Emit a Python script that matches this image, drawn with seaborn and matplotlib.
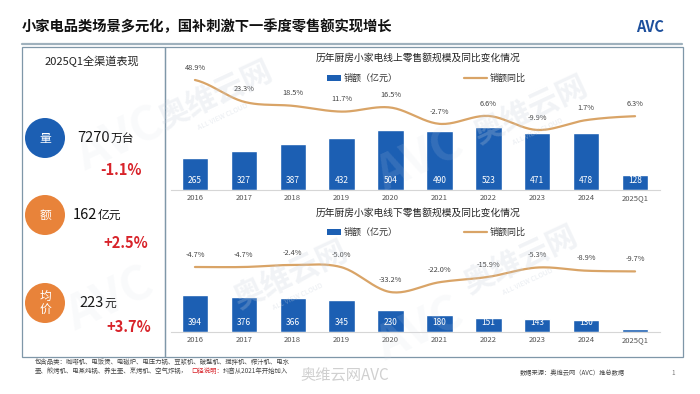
import matplotlib
matplotlib.use("Agg")
import matplotlib.pyplot as plt
from matplotlib.patches import Circle, Rectangle
import seaborn as sns
import pandas as pd
import numpy as np

# ---- data ----
years = ["2016", "2017", "2018", "2019", "2020", "2021", "2022", "2023", "2024", "2025Q1"]
online_sales = [265, 327, 387, 432, 504, 490, 523, 471, 478, 128]
online_yoy = [48.9, 23.3, 18.5, 11.7, 16.5, -2.7, 6.6, -9.9, 1.7, 6.3]
offline_sales = [394, 376, 366, 345, 230, 180, 151, 143, 130, 34]
offline_yoy = [-4.7, -4.7, -2.4, -5.0, -33.2, -22.0, -15.9, -5.3, -8.9, -9.7]

kpi_names = ["量", "额", "均\n价"]
kpi_values = ["7270", "162", "223"]
kpi_units = ["万台", "亿元", "元"]
kpi_changes = ["-1.1%", "+2.5%", "+3.7%"]

BLUE = "#1c5fb3"
LINE = "#d9a467"
RED = "#d8232a"
GRID = "#7f97a8"

sns.set_style("white")
plt.rcParams["font.family"] = ["Noto Sans CJK SC", "DejaVu Sans"]
plt.rcParams["axes.unicode_minus"] = False

W, H = 700, 394
fig = plt.figure(figsize=(7, 3.94), dpi=100)


def fx(px):
    return px / W


def fy(py):
    return 1 - py / H


def smooth(xs, ys, n=24):
    # catmull-rom rendering of the line (drawing style only)
    xs = np.asarray(xs, float)
    ys = np.asarray(ys, float)
    px = np.concatenate([[2 * xs[0] - xs[1]], xs, [2 * xs[-1] - xs[-2]]])
    py = np.concatenate([[ys[0]], ys, [ys[-1]]])
    ox, oy = [], []
    for i in range(1, len(px) - 2):
        t = np.linspace(0, 1, n, endpoint=False)
        for arr, out in ((px, ox), (py, oy)):
            p0, p1, p2, p3 = arr[i - 1], arr[i], arr[i + 1], arr[i + 2]
            out.extend(0.5 * ((2 * p1) + (-p0 + p2) * t
                              + (2 * p0 - 5 * p1 + 4 * p2 - p3) * t ** 2
                              + (-p0 + 3 * p1 - 3 * p2 + p3) * t ** 3))
    ox.append(xs[-1])
    oy.append(ys[-1])
    return np.array(ox), np.array(oy)


def combo(top_px, bottom_px, sales, yoy, ymax, yoy_lim):
    ax = fig.add_axes([fx(170.5), fy(bottom_px), fx(489), (bottom_px - top_px) / H])
    df = pd.DataFrame({"year": years, "sales": sales})
    sns.barplot(data=df, x="year", y="sales", color=BLUE, width=0.54,
                saturation=1, ax=ax)
    ax.set_ylim(0, ymax)
    ax.set_xlim(-0.5, 9.5)
    ax.set_xlabel("")
    ax.set_ylabel("")
    ax.set_yticks([])
    for s in ["top", "left", "right"]:
        ax.spines[s].set_visible(False)
    ax.spines["bottom"].set_color("#d6d6d6")
    ax.spines["bottom"].set_linewidth(0.8)
    ax.tick_params(axis="x", length=0, pad=3, labelsize=5.5, labelcolor="#555555")
    ax.patch.set_alpha(0)
    for i, v in enumerate(sales):
        if v > 60:
            ax.annotate(str(v), (i, 0), xytext=(0, 3.5), textcoords="offset points",
                        ha="center", va="bottom", color="white", fontsize=6)

    ax2 = ax.twinx()
    sx, sy = smooth(np.arange(len(yoy)), yoy)
    sns.lineplot(x=sx, y=sy, color=LINE, linewidth=1.6, sort=False, ax=ax2)
    ax2.set_ylim(*yoy_lim)
    ax2.set_yticks([])
    for s in ax2.spines.values():
        s.set_visible(False)
    for i, v in enumerate(yoy):
        ax2.annotate(f"{v:.1f}%", (i, v), xytext=(0, 6), textcoords="offset points",
                     ha="center", va="bottom", color="#444444", fontsize=5.3)
    return ax


combo(60, 190, online_sales, online_yoy, 1083, (-80.5, 72.4))
combo(240, 332, offline_sales, offline_yoy, 979, (-78.6, 26.0))

# ---- overlay for frames, texts, kpis ----
ov = fig.add_axes([0, 0, 1, 1], zorder=-1)
ov.set_xlim(0, W)
ov.set_ylim(H, 0)
ov.axis("off")

ov.text(22, 27, "小家电品类场景多元化，国补刺激下一季度零售额实现增长",
        fontsize=10.3, fontweight="bold", color="#111111", va="center", ha="left")
ov.text(650, 27, "AVC", fontsize=10.5, fontweight="heavy", fontstyle="italic",
        color="#1d4f9c", va="center", ha="center")
ov.plot([22, 682], [43.5, 43.5], color="#9fb1bd", lw=1.6)
ov.add_patch(Rectangle((22, 47), 143, 310, fill=False, ec=GRID, lw=0.9))
ov.add_patch(Rectangle((165, 47), 518, 310, fill=False, ec=GRID, lw=0.9))

ov.text(92, 61, "2025Q1全渠道表现", fontsize=8, color="#222222", ha="center", va="center")

circle_y = [138, 215, 303]
circle_c = [BLUE, "#e8833a", "#e8833a"]
num_x = [77, 73, 79]
chg_y = [170, 243, 327]
chg_x = [142, 148, 151]
for i in range(3):
    ov.add_patch(Circle((45, circle_y[i]), 20, color=circle_c[i], lw=0))
    ov.text(45, circle_y[i], kpi_names[i], color="white", fontsize=8.5,
            ha="center", va="center", linespacing=1.1)
    num = ov.text(num_x[i], circle_y[i], kpi_values[i], fontsize=10.5,
                  color="#111111", ha="left", va="center")
    ov.annotate(kpi_units[i], xy=(1, 0), xycoords=num, xytext=(0.5, 0),
                textcoords="offset points", fontsize=8.5, color="#111111",
                ha="left", va="bottom")
    ov.text(chg_x[i], chg_y[i], kpi_changes[i], fontsize=10.5, fontweight="bold",
            color=RED, ha="right", va="center")

# chart titles and legends
for ty, ly, name in [(58, 78, "历年厨房小家电线上零售额规模及同比变化情况"),
                     (213, 232, "历年厨房小家电线下零售额规模及同比变化情况")]:
    ov.text(418, ty, name, fontsize=7, color="#222222", ha="center", va="center")
    ov.add_patch(Rectangle((327, ly - 3), 14, 6, color=BLUE, lw=0))
    ov.text(344, ly, "销额（亿元）", fontsize=6.5, color="#333333", ha="left", va="center")
    ov.plot([464, 487], [ly, ly], color=LINE, lw=1.6)
    ov.text(490, ly, "销额同比", fontsize=6.5, color="#333333", ha="left", va="center")

# footnotes
fn = dict(fontsize=4.6, ha="left", va="center")
ov.text(35, 362, "包含品类：咖啡机、电饭煲、电磁炉、电压力锅、豆浆机、破壁机、搅拌机、榨汁机、电水",
        color="#444444", **fn)
ov.text(35, 371, "壶、煎烤机、电蒸炖锅、养生壶、烹烤机、空气炸锅，", color="#444444", **fn)
ov.text(191, 371, "口径说明：", color=RED, **fn)
ov.text(223, 371, "抖音从2021年开始加入", color="#444444", **fn)
ov.text(520, 373, "数据来源：奥维云网（AVC）推总数据", fontsize=4.5, color="#444444",
        ha="left", va="center")
ov.text(673, 373, "1", fontsize=4.5, color="#777777", ha="center", va="center")
ov.text(300, 376, "奥维云网AVC", fontsize=11, color="#d0d0d0", ha="left", va="center")

# faint watermarks
wm = fig.add_axes([0, 0, 1, 1], zorder=5)
wm.set_xlim(0, W)
wm.set_ylim(H, 0)
wm.axis("off")
for x, y in [(215, 95), (530, 110), (290, 275), (520, 260)]:
    wm.text(x, y, "奥维云网", fontsize=22, fontweight="bold", color="#c9d1dc",
            alpha=0.25, rotation=25, ha="center", va="center")
    wm.text(x + 8, y + 22, "ALL VIEW CLOUD", fontsize=5, color="#c9d1dc",
            alpha=0.4, rotation=25, ha="center", va="center")
for x, y in [(120, 140), (420, 160), (110, 300), (420, 330)]:
    wm.text(x, y, "AVC", fontsize=34, fontweight="heavy", fontstyle="italic",
            color="#d7dde6", alpha=0.13, rotation=25, ha="center", va="center")

fig.savefig("out.png", dpi=100, facecolor="white")
